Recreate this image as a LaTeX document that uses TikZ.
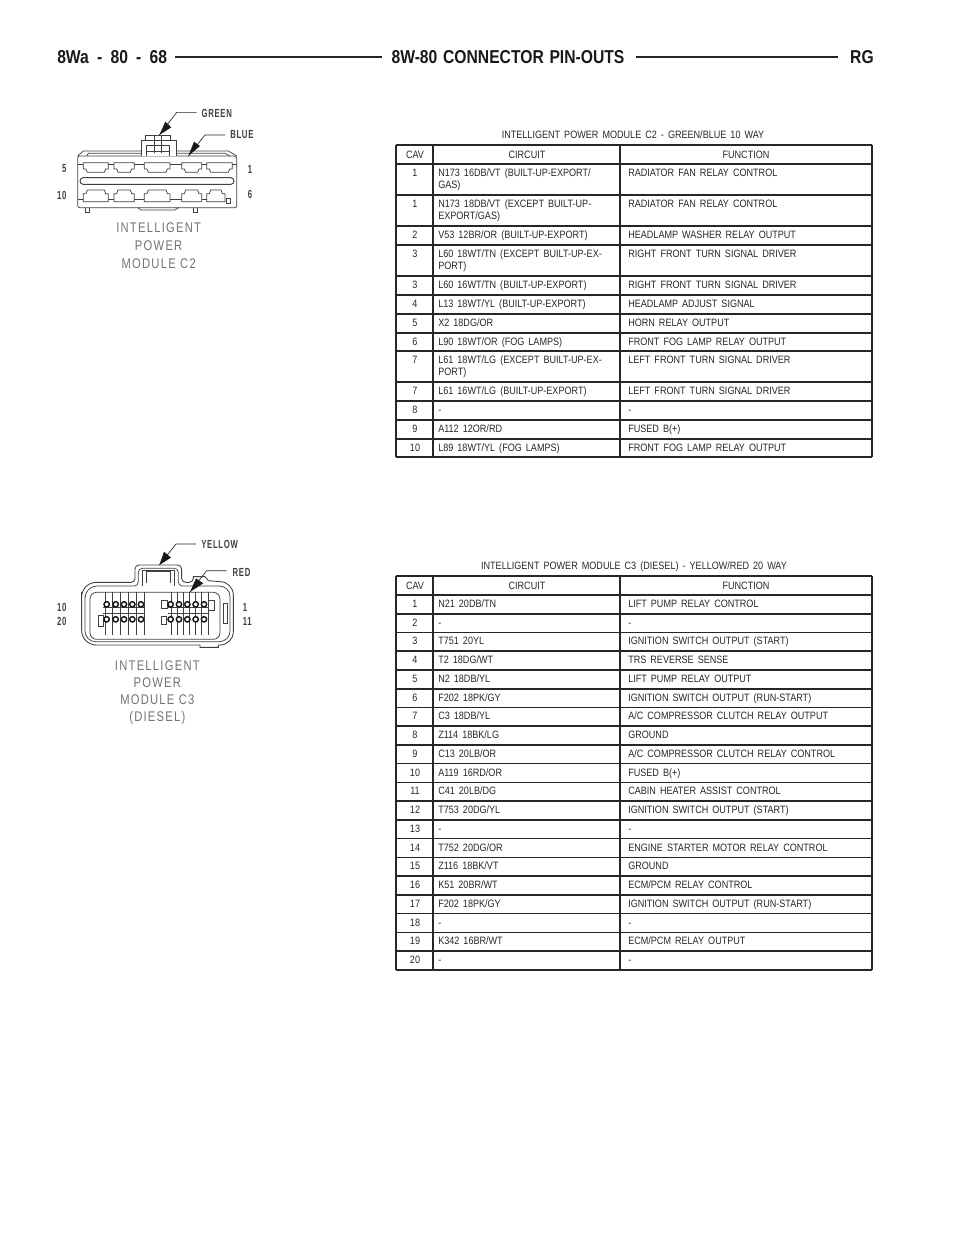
\documentclass[tikz,border=0pt]{standalone}
\usepackage{fontspec}
\setmainfont{Liberation Sans}
\newfontfamily\tabfont[FakeStretch=0.85,WordSpace=1.6]{Liberation Sans}
\newfontfamily\headfont[FakeStretch=0.84,WordSpace=1.3]{Liberation Sans Bold}
\newfontfamily\lblfont[FakeStretch=0.66,LetterSpace=6]{Liberation Sans Bold}
\newfontfamily\capfont[FakeStretch=0.80,LetterSpace=9]{Liberation Sans}
\newcommand{\pgap}{\hspace{1.9pt}}
\tikzset{
  tabtext/.style={inner sep=0pt,font=\tabfont\fontsize{8pt}{9pt}\selectfont,text=black!85},
  headtext/.style={inner sep=0pt,font=\headfont\fontsize{14pt}{15pt}\selectfont,text=black!90},
  pinlbl/.style={inner sep=0pt,font=\lblfont\fontsize{8.8pt}{9pt}\selectfont,text=black!75},
  captext/.style={inner sep=0pt,font=\capfont\fontsize{10.5pt}{11pt}\selectfont,text=black!55,align=center},
  rule/.style={line width=1.2pt,draw=black!85},
  cline/.style={line width=0.55pt,draw=black!75},
  leader/.style={line width=0.5pt,draw=black!85},
  wedge/.style={fill=black!90,draw=none},
  pinring/.style={line width=1.1pt,draw=black!90,fill=white},
}
\newcounter{nn}
% row: top y, cav, circuit, function
\newcommand{\trow}[4]{\stepcounter{nn}%
  \node[tabtext,anchor=base] (c\thenn) at (415,#1+12.5) {#2};
  \node[tabtext,anchor=base west] (d\thenn) at (438,#1+12.5) {#3};
  \node[tabtext,anchor=base west] (f\thenn) at (628,#1+12.5) {#4};}
\newcommand{\trowtwo}[5]{\stepcounter{nn}%
  \node[tabtext,anchor=base] (c\thenn) at (415,#1+12.5) {#2};
  \node[tabtext,anchor=base west] (d\thenn) at (438,#1+12.5) {#3};
  \node[tabtext,anchor=base west] (e\thenn) at (438,#1+24.5) {#4};
  \node[tabtext,anchor=base west] (f\thenn) at (628,#1+12.5) {#5};}
\begin{document}
\begin{tikzpicture}[x=0.75pt,y=-0.75pt]
\useasboundingbox (0,0) rectangle (960,1242);
% page header
\node[headtext,anchor=west] (pg) at (57,57) {8Wa\pgap{} -\pgap{} 80\pgap{} -\pgap{} 68};
\node[headtext] (ttl) at (508,57) {8W-80 CONNECTOR PIN-OUTS};
\node[headtext,anchor=east] (rg) at (874,57) {RG};
\draw[line width=2.2pt,draw=black!85] (175,57) coordinate (l1) -- (382,57) coordinate (l2);
\draw[line width=2.2pt,draw=black!85] (636,57) coordinate (l3) -- (838,57) coordinate (l4);

% ---- Table C2
\node[tabtext,anchor=base] (t2) at (633,138) {INTELLIGENT POWER MODULE C2 - GREEN/BLUE 10 WAY};
\foreach \y in {145,164,195,226,245,276,295,314,333,351,382,401,420,439,457}{\draw[rule] (396,\y) -- (872,\y);}
\draw[rule] (396,145) -- (396,457) (433,145) -- (433,457) (620,145) -- (620,457) (872,145) -- (872,457);
\node[tabtext,anchor=base] (h1) at (415,158) {CAV};
\node[tabtext,anchor=base] (h2) at (527,158) {CIRCUIT};
\node[tabtext,anchor=base] (h3) at (746,158) {FUNCTION};
\trowtwo{164}{1}{N173 16DB/VT (BUILT-UP-EXPORT/}{GAS)}{RADIATOR FAN RELAY CONTROL}
\trowtwo{195}{1}{N173 18DB/VT (EXCEPT BUILT-UP-}{EXPORT/GAS)}{RADIATOR FAN RELAY CONTROL}
\trow{226}{2}{V53 12BR/OR (BUILT-UP-EXPORT)}{HEADLAMP WASHER RELAY OUTPUT}
\trowtwo{245}{3}{L60 18WT/TN (EXCEPT BUILT-UP-EX-}{PORT)}{RIGHT FRONT TURN SIGNAL DRIVER}
\trow{276}{3}{L60 16WT/TN (BUILT-UP-EXPORT)}{RIGHT FRONT TURN SIGNAL DRIVER}
\trow{295}{4}{L13 18WT/YL (BUILT-UP-EXPORT)}{HEADLAMP ADJUST SIGNAL}
\trow{314}{5}{X2 18DG/OR}{HORN RELAY OUTPUT}
\trow{333}{6}{L90 18WT/OR (FOG LAMPS)}{FRONT FOG LAMP RELAY OUTPUT}
\trowtwo{351}{7}{L61 18WT/LG (EXCEPT BUILT-UP-EX-}{PORT)}{LEFT FRONT TURN SIGNAL DRIVER}
\trow{382}{7}{L61 16WT/LG (BUILT-UP-EXPORT)}{LEFT FRONT TURN SIGNAL DRIVER}
\trow{401}{8}{-}{-}
\trow{420}{9}{A112 12OR/RD}{FUSED B(+)}
\trow{439}{10}{L89 18WT/YL (FOG LAMPS)}{FRONT FOG LAMP RELAY OUTPUT}

% ---- Table C3
\node[tabtext,anchor=base] (t3) at (634,569) {INTELLIGENT POWER MODULE C3 (DIESEL) - YELLOW/RED 20 WAY};
\foreach \i in {0,...,19}{\draw[rule] (396,{595+\i*18.74}) -- (872,{595+\i*18.74});}
\draw[rule] (396,576) -- (872,576) (396,970) -- (872,970);
\draw[rule] (396,576) -- (396,970) (433,576) -- (433,970) (620,576) -- (620,970) (872,576) -- (872,970);
\node[tabtext,anchor=base] (j1) at (415,589) {CAV};
\node[tabtext,anchor=base] (j2) at (527,589) {CIRCUIT};
\node[tabtext,anchor=base] (j3) at (746,589) {FUNCTION};
\trow{595}{1}{N21 20DB/TN}{LIFT PUMP RELAY CONTROL}
\trow{613.74}{2}{-}{-}
\trow{632.48}{3}{T751 20YL}{IGNITION SWITCH OUTPUT (START)}
\trow{651.22}{4}{T2 18DG/WT}{TRS REVERSE SENSE}
\trow{669.96}{5}{N2 18DB/YL}{LIFT PUMP RELAY OUTPUT}
\trow{688.7}{6}{F202 18PK/GY}{IGNITION SWITCH OUTPUT (RUN-START)}
\trow{707.44}{7}{C3 18DB/YL}{A/C COMPRESSOR CLUTCH RELAY OUTPUT}
\trow{726.18}{8}{Z114 18BK/LG}{GROUND}
\trow{744.92}{9}{C13 20LB/OR}{A/C COMPRESSOR CLUTCH RELAY CONTROL}
\trow{763.66}{10}{A119 16RD/OR}{FUSED B(+)}
\trow{782.4}{11}{C41 20LB/DG}{CABIN HEATER ASSIST CONTROL}
\trow{801.14}{12}{T753 20DG/YL}{IGNITION SWITCH OUTPUT (START)}
\trow{819.88}{13}{-}{-}
\trow{838.62}{14}{T752 20DG/OR}{ENGINE STARTER MOTOR RELAY CONTROL}
\trow{857.36}{15}{Z116 18BK/VT}{GROUND}
\trow{876.1}{16}{K51 20BR/WT}{ECM/PCM RELAY CONTROL}
\trow{894.84}{17}{F202 18PK/GY}{IGNITION SWITCH OUTPUT (RUN-START)}
\trow{913.58}{18}{-}{-}
\trow{932.32}{19}{K342 16BR/WT}{ECM/PCM RELAY OUTPUT}
\trow{951.06}{20}{-}{-}

% ---- Connector C2 (coordinates are thirds of a pixel)
\begin{scope}[shift={(40,95)},x=0.25pt,y=-0.25pt]
\draw[cline,rounded corners=1.5pt] (113,183) rectangle (590,338);
\draw[cline] (113,183) -- (130,168) -- (303,168) (408,168) -- (565,168) -- (590,183);
\draw[cline] (140,183) -- (145,175) -- (303,175) (408,175) -- (555,175) -- (570,183);
\draw[cline,fill=white] (303,183) -- (303,137) -- (408,137) -- (408,183);
\draw[cline] (315,137) -- (315,120) -- (390,120) -- (390,137);
\draw[cline] (320,183) -- (320,150) -- (388,150) -- (388,183);
\draw[cline] (343,120) -- (343,175) (365,120) -- (365,175);
\draw[cline] (320,168) -- (388,168);
\draw[cline,line width=.7pt,rounded corners=2.4pt] (120,248) rectangle (582,268);
% upper cavities
\foreach \a/\b in {130/205,222/283,313/390,425/485,500/577}{
  \draw[cline] (\a,203) -- (\b,203) -- (\b,222) -- ({\b-8},222) -- ({\b-12},232) -- ({\a+12},232) -- ({\a+8},222) -- (\a,222) -- cycle;}
\draw[cline] (113,208) -- (130,208) (205,208) -- (222,208) (283,208) -- (313,208) (390,208) -- (425,208) (485,208) -- (500,208) (577,208) -- (590,208);
% lower cavities
\foreach \a/\b in {130/205,222/283,313/390,425/485,500/555}{
  \draw[cline] (\a,320) -- (\b,320) -- (\b,296) -- ({\b-8},296) -- ({\b-12},285) -- ({\a+12},285) -- ({\a+8},296) -- (\a,296) -- cycle;}
\draw[cline] (113,314) -- (130,314) (205,314) -- (222,314) (283,314) -- (313,314) (390,314) -- (425,314) (485,314) -- (500,314);
\draw[cline] (560,310) rectangle (571,324);
\draw[cline] (135,338) -- (135,351) -- (147,351) -- (147,338);
\draw[cline] (460,338) -- (460,351) -- (473,351) -- (473,338);
\draw[cline] (293,338) -- (303,345) -- (405,345) -- (416,338);
% leaders
\node[pinlbl,anchor=west] (gr) at (484,55) {GREEN};
\node[pinlbl,anchor=west] (bl) at (570,120) {BLUE};
\coordinate (gt) at (358,120);
\coordinate (bt) at (445,183);
\draw[leader] (470,52) -- (410,52) -- (gt);
\fill[wedge] (gt) -- (376,80) -- (394,97) -- cycle;
\draw[leader] (555,120) -- (495,120) -- (bt);
\fill[wedge] (bt) -- (462,140) -- (480,153) -- cycle;
\node[pinlbl] (n5) at (73,222) {5};
\node[pinlbl] (n10) at (65,300) {10};
\node[pinlbl] (n1) at (630,222) {1};
\node[pinlbl] (n6) at (630,298) {6};
\node[captext] (cap2) at (356,452) {INTELLIGENT\\[2.6pt]POWER\\[2.6pt]MODULE C2};
\end{scope}

% ---- Connector C3
\begin{scope}[shift={(40,530)},x=0.25pt,y=-0.25pt]
\draw[cline,line width=.65pt] (125,230) [rounded corners=11pt] -- (125,157) [rounded corners=3pt] -- (285,157) -- (285,105) -- (425,105) -- (425,157) -- (460,157) [sharp corners] -- (460,140) -- (495,140) -- (505,152) -- (540,155) [rounded corners=10pt] -- (580,155) -- (580,345) [sharp corners] -- (535,345) -- (535,352) -- (480,352) -- (480,345) [rounded corners=11pt] -- (125,345) -- cycle;
\draw[cline] (135,230) [rounded corners=9pt] -- (135,168) [rounded corners=3pt] -- (295,168) -- (295,115) -- (415,115) -- (415,168) [rounded corners=8pt] -- (570,168) -- (570,335) -- (135,335) -- cycle;
\draw[cline,rounded corners=5pt] (150,187) rectangle (540,328);
\draw[cline] (308,168) -- (308,120) -- (402,120) -- (402,168);
\draw[cline] (318,125) -- (392,125) (318,125) -- (318,158) (392,125) -- (392,158);
\draw[cline] (550,220) rectangle (562,280);
\foreach \x in {195,217,240,265,290,312,395,412,430,448,465,485,505}{\draw[cline] (\x,187) -- (\x,315);}
\draw[cline,line width=.7pt] (190,232) -- (312,232) (190,250) -- (312,250) (385,232) -- (505,232) (385,250) -- (505,250);
\draw[cline] (365,212) rectangle (382,235) (505,210) rectangle (522,240) (175,255) rectangle (190,290) (365,260) rectangle (380,282);
\foreach \x/\u in {200/392,227/417,252/442,277/467,303/492}{
  \draw[pinring] (\x,223) circle (8);
  \draw[pinring] (\x,268) circle (8);
  \draw[pinring] (\u,223) circle (8);
  \draw[pinring] (\u,268) circle (8);}
\node[pinlbl,anchor=west] (ye) at (483,42) {YELLOW};
\node[pinlbl,anchor=west] (re) at (577,127) {RED};
\coordinate (yt) at (358,105);
\coordinate (rt) at (450,186);
\draw[leader] (468,42) -- (408,42) -- (yt);
\fill[wedge] (yt) -- (372,65) -- (393,83) -- cycle;
\draw[leader] (560,122) -- (500,122) -- (rt);
\fill[wedge] (rt) -- (468,145) -- (490,160) -- cycle;
\node[pinlbl] (m10) at (65,232) {10};
\node[pinlbl] (m20) at (65,275) {20};
\node[pinlbl] (m1) at (615,232) {1};
\node[pinlbl] (m11) at (622,275) {11};
\node[captext] (cap3) at (352,487) {INTELLIGENT\\[1.8pt]POWER\\[1.8pt]MODULE C3\\[1.8pt](DIESEL)};
\end{scope}
\end{tikzpicture}
\end{document}
